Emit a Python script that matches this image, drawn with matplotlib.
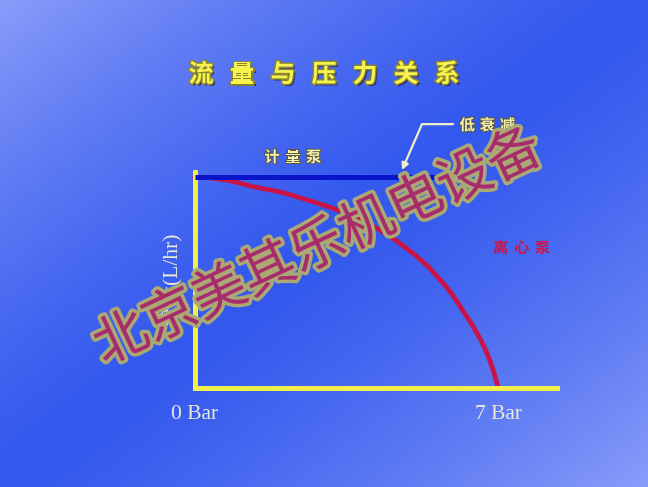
import numpy as np
import matplotlib
matplotlib.use("Agg")
import matplotlib.pyplot as plt
import matplotlib.patheffects as pe

# 数据
title = "流量与压力关系"
tick_pos = [0, 7]
tick_labels = ["0 Bar", "7 Bar"]
ylabel = "流量(L/hr)"

metering_label = "计量泵"
metering_p = [0, 5.94]
metering_f = [100, 100]

centrifugal_label = "离心泵"
centrifugal_p = [0, 0.4, 0.81, 1.0, 1.35, 1.6, 1.96, 2.3, 2.73, 3.1, 3.50, 3.9, 4.27,
                 4.65, 5.04, 5.4, 5.81, 6.0, 6.20, 6.4, 6.58, 6.7, 6.81, 6.9, 6.97, 7.0]
centrifugal_f = [100, 99.5, 98.3, 97.3, 95.4, 94.4, 93.0, 91.0, 88.3, 85.8, 82.8, 79.0, 74.9,
                 69.8, 63.8, 57.3, 47.8, 42.6, 36.2, 30.0, 23.5, 18.5, 13.0, 7.5, 2.5, 0]

note_label = "低衰减"
note_tip = (4.78, 103.3)
note_start = (5.96, 125.1)

watermark = "北京美其乐机电设备"

CJK = ["Noto Sans CJK SC", "DejaVu Sans"]
SERIF = ["Liberation Serif", "Noto Sans CJK SC"]

W, H = 648, 487
fig = plt.figure(figsize=(W / 100, H / 100), dpi=100)

# 背景渐变
bg = fig.add_axes([0, 0, 1, 1])
xx, yy = np.meshgrid(np.linspace(0, 1, W), np.linspace(0, 1, H))
t = np.abs(xx + yy - 1.0) ** 1.3
dark = np.array([0x33, 0x58, 0xee]) / 255
light = np.array([0x88, 0x9c, 0xfa]) / 255
img = dark + (light - dark) * t[..., None]
bg.imshow(img, aspect="auto", extent=[0, 1, 0, 1], origin="upper")
bg.axis("off")

# 主图
ax = fig.add_axes([195 / W, 1 - 388 / H, (557 - 195) / W, (388 - 172) / H])
ax.set_facecolor("none")
ax.set_xlim(0, 8.36)
ax.set_ylim(0, 102.4)
for s in ["top", "right"]:
    ax.spines[s].set_visible(False)
for s in ["left", "bottom"]:
    ax.spines[s].set_color("#f2ee4a")
    ax.spines[s].set_linewidth(3.6)
    ax.spines[s].set_capstyle("projecting")

ax.plot(metering_p, metering_f, color="#0a14c8", lw=3.6, solid_capstyle="butt", clip_on=False, zorder=3)
ax.plot(centrifugal_p, centrifugal_f, color="#c81446", lw=3.4, clip_on=False, zorder=2,
        solid_joinstyle="round")

ax.set_yticks([])
ax.set_xticks(tick_pos)
ax.set_xticklabels(tick_labels, family=SERIF, fontsize=15.5, color="#ecead8")
ax.tick_params(axis="x", length=0, pad=12)
ax.set_ylabel(ylabel, family=SERIF, fontsize=15.5, color="#ecead8", labelpad=10)


def spaced(x, y, s, step, **kw):
    n = len(s)
    for i, ch in enumerate(s):
        ax.annotate(ch, xy=(x, y), xytext=((i - (n - 1) / 2) * step, 0),
                    textcoords="offset points", ha="center", va="center",
                    family=CJK, annotation_clip=False, **kw)


small_fx = [pe.withStroke(linewidth=1.5, foreground="#5a5a40")]
spaced(2.26, 109.5, metering_label, 15, fontsize=11, weight="bold",
       color="#f4f0b0", path_effects=small_fx)
spaced(6.75, 124.6, note_label, 14.5, fontsize=11, weight="bold",
       color="#f4f0b0", path_effects=small_fx)
spaced(7.53, 66.4, centrifugal_label, 15, fontsize=11, weight="bold",
       color="#c8184a")

ax.annotate("", xy=note_tip, xytext=note_start, annotation_clip=False,
            arrowprops=dict(arrowstyle="-|>", color="#f0f0c8", lw=1.6,
                            mutation_scale=10, shrinkA=0, shrinkB=0,
                            connectionstyle="angle,angleA=0,angleB=66.5,rad=0"))

# 标题
title_fx = [pe.SimplePatchShadow(offset=(1.5, -1.5), shadow_rgbFace="#202050", alpha=0.8),
            pe.withStroke(linewidth=2, foreground="#8a8430")]
n = len(title)
for i, ch in enumerate(title):
    fig.text((324 + (i - (n - 1) / 2) * 41) / W, 1 - 75 / H, ch, family=CJK,
             fontsize=18, weight="heavy", color="#f6f24e", ha="center", va="center",
             path_effects=title_fx)

# 水印
fig.text(318 / W, 1 - 248 / H, watermark, family=CJK, fontsize=39, rotation=25,
         rotation_mode="anchor", ha="center", va="center", color="#a82c6c",
         zorder=10, path_effects=[pe.withStroke(linewidth=5, foreground="#aaa874")])

fig.savefig("out.png", dpi=100)
